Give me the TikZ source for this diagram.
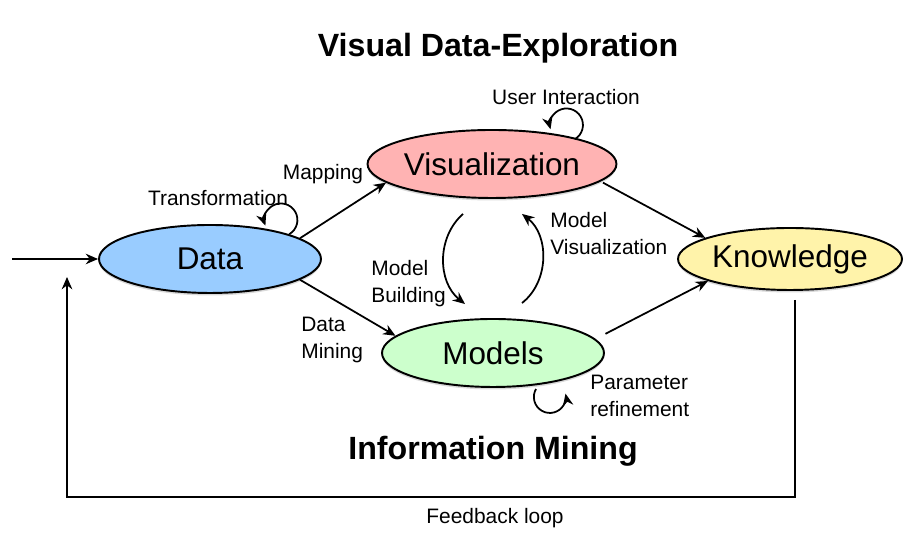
\documentclass[tikz,border=0pt]{standalone}
\usepackage{fontspec}
\setmainfont{Liberation Sans}
\usetikzlibrary{shapes.geometric,arrows.meta,shadows}
\definecolor{datafill}{HTML}{99CCFF}
\definecolor{visfill}{HTML}{FFB3B3}
\definecolor{modelfill}{HTML}{CCFFCC}
\definecolor{knowfill}{HTML}{FFF3AA}

\begin{document}
\begin{tikzpicture}[
    stage/.style={ellipse, draw, line width=1.1pt, minimum width=4.44cm, minimum height=1.36cm,
      inner sep=0pt, font=\fontsize{17.9}{20}\selectfont,
      drop shadow={shadow xshift=0pt, shadow yshift=-0.05cm, opacity=0.3}},
    lbl/.style={font=\fontsize{11.9}{15.3}\selectfont, align=left, inner sep=0pt},
    ttl/.style={font=\bfseries\fontsize{18.3}{21}\selectfont, inner sep=0pt},
    arr/.style={-{Stealth[length=7pt,width=6pt]}, line width=1pt}]
\useasboundingbox (0,0) rectangle (18.22,10.78);
\node[stage, fill=datafill] (data) at (4.20, 5.60) {Data};
\node[stage, fill=visfill] (vis) at (9.84, 7.50) {Visualization};
\node[stage, fill=modelfill] (models) at (9.86, 3.72) {Models};
\node[stage, fill=knowfill, minimum width=4.48cm, minimum height=1.24cm] (know) at (15.80, 5.60) {Knowledge};
\node[ttl] (top) at (9.96, 9.82) {Visual Data-Exploration};
\node[ttl] (bottom) at (9.86, 1.76) {Information Mining};
\node[lbl] (map) at (6.46, 7.30) {Mapping};
\node[lbl] (trans) at (4.36, 6.82) {Transformation};
\node[lbl] (user) at (11.32, 8.84) {User Interaction};
\node[lbl, anchor=west] (mvis) at (11.00, 6.11) {Model\\Visualization};
\node[lbl, anchor=west] (mbuild) at (7.42, 5.10) {Model\\Building};
\node[lbl, anchor=west] (mining) at (6.02, 3.98) {Data\\Mining};
\node[lbl, anchor=west] (param) at (11.80, 2.87) {Parameter\\refinement};
\node[lbl] (fb) at (9.90, 0.42) {Feedback loop};
\coordinate (entry) at (0.24, 5.60);
\coordinate (fbstart) at (15.90, 4.78);
\coordinate (fbend) at (1.34, 5.24);
\draw[arr] (entry) -- (data);
\draw[arr] (data.13) -- (vis.190);
\draw[arr] (data.-13) -- (models.170);
\draw[arr] ([xshift=0.1cm]vis.-10) -- (know.166);
\draw[arr] ([shift={(0.3cm,0.04cm)}]models.10) -- (know.195);
\draw[arr] (fbstart) -- (fbstart |- 0,0.84) -| (fbend);
\draw[arr] (data.north east) arc[start angle=-60, end angle=200, radius=0.33cm];
\draw[arr] ([xshift=-0.12cm]vis.north east) arc[start angle=-60, end angle=195, radius=0.33cm];
\draw[arr] ([xshift=0.86cm,yshift=-0.02cm]models.south) arc[start angle=150, end angle=372, radius=0.32cm];
\draw[arr] ([xshift=-0.58cm,yshift=-0.3cm]vis.south) to[bend right=50] ([xshift=-0.56cm,yshift=0.28cm]models.north);
\draw[arr] ([xshift=0.58cm,yshift=0.3cm]models.north) to[bend right=52] ([xshift=0.6cm,yshift=-0.3cm]vis.south);
\end{tikzpicture}
\end{document}
